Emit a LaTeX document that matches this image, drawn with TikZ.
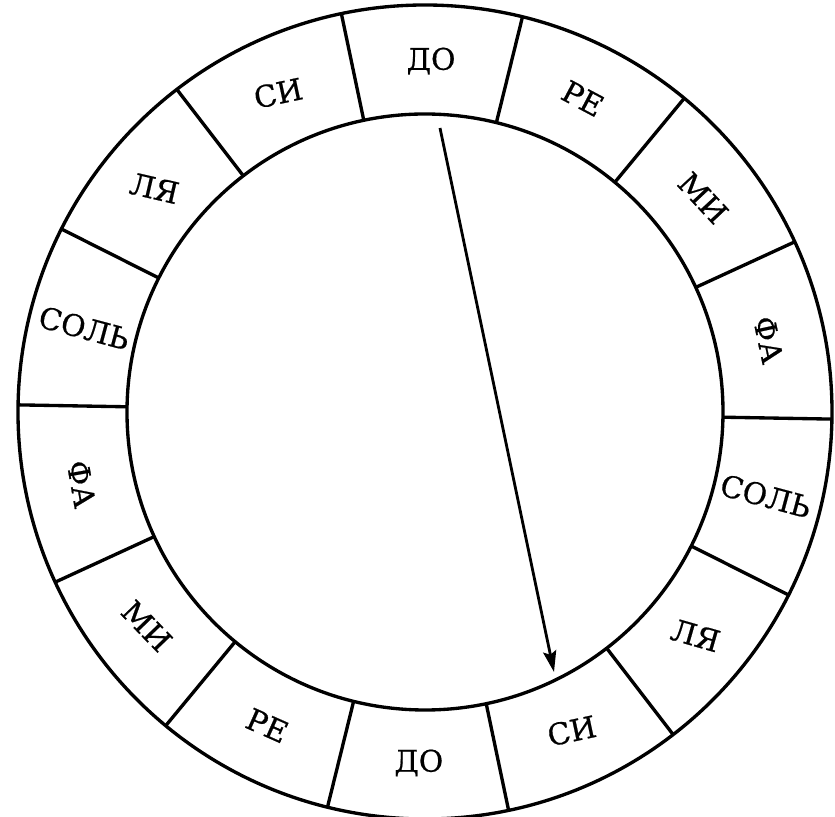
\documentclass[tikz,border=0pt]{standalone}
\usepackage{fontspec}
\newfontfamily\notefont[FakeBold=0.6]{DejaVu Serif}
\usepackage{tikz}
\usetikzlibrary{arrows.meta}

\begin{document}
\begin{tikzpicture}[x=0.02cm,y=0.02cm,
  ring/.style={line width=1.9pt},
  notename/.style={font=\notefont\fontsize{17}{20}\selectfont}]
  \useasboundingbox (-425,-405) rectangle (410,412);
  \begin{scope}[rotate=-1]
    \draw[ring] (0,0) circle (407);
    \draw[ring] (0,0) circle (298);
    \foreach \k in {0,...,13}
      \draw[ring] (\k*25.714:298) -- (\k*25.714:407);
    \foreach \name/\rot [count=\i from 0] in {ДО/0,РЕ/-28,МИ/-47,ФА/-78,СОЛЬ/-15,ЛЯ/-16,СИ/12,
                                              ДО/0,РЕ/-24,МИ/-46,ФА/-80,СОЛЬ/-15,ЛЯ/-13,СИ/12}
      \node[notename,rotate=\rot] (note\i) at ({90-\i*25.714}:351) {\name};
  \end{scope}
  \coordinate (start) at (15,284);
  \coordinate (tip) at (129,-260);
  \draw[line width=1.6pt,-{Stealth[length=12pt,width=7.5pt,inset=2pt]}] (start) -- (tip);
\end{tikzpicture}
\end{document}
